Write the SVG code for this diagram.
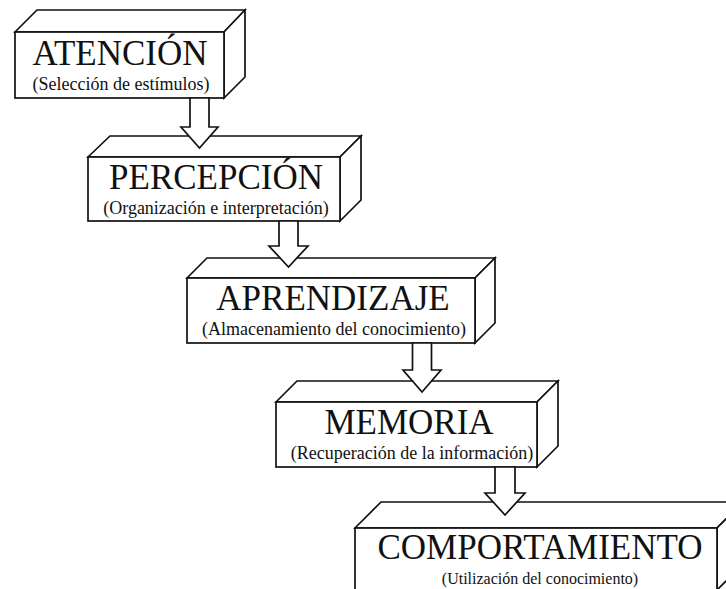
<svg xmlns="http://www.w3.org/2000/svg" width="726" height="589" viewBox="0 0 726 589">
<style>
.box{fill:#fff;stroke:#111;stroke-width:1.7;stroke-linejoin:miter}
.arrow{fill:#fff;stroke:#111;stroke-width:1.7;stroke-linejoin:miter}
.t{font-family:"Liberation Serif","Times New Roman",serif;fill:#111;text-anchor:middle}
.title{font-size:35px}
.sub{font-size:18px}
</style>
<rect width="726" height="589" fill="#fff"/>
<g id="atencion">
<path class="box" d="M15,32 L37,10 L245,10 L224,32 Z"/>
<path class="box" d="M224,32 L245,10 L245,77 L224,98 Z"/>
<rect class="box" x="15" y="32" width="209" height="66"/>
<text class="t title" x="120" y="65">ATENCIÓN</text>
<text class="t sub" x="121" y="90">(Selección de estímulos)</text>
</g>
<g id="percepcion">
<path class="box" d="M88,157 L110,136 L361,136 L340,157 Z"/>
<path class="box" d="M340,157 L361,136 L361,200 L340,221 Z"/>
<rect class="box" x="88" y="157" width="252" height="64"/>
<text class="t title" x="216" y="189">PERCEPCIÓN</text>
<text class="t sub" x="216" y="214">(Organización e interpretación)</text>
</g>
<g id="aprendizaje">
<path class="box" d="M187,278 L207,258 L495,258 L475,278 Z"/>
<path class="box" d="M475,278 L495,258 L495,323 L475,343 Z"/>
<rect class="box" x="187" y="278" width="288" height="65"/>
<text class="t title" x="333" y="310">APRENDIZAJE</text>
<text class="t sub" x="334" y="335">(Almacenamiento del conocimiento)</text>
</g>
<g id="memoria">
<path class="box" d="M276,402 L297,381 L558,381 L537,402 Z"/>
<path class="box" d="M537,402 L558,381 L558,446 L537,467 Z"/>
<rect class="box" x="276" y="402" width="261" height="65"/>
<text class="t title" x="409" y="434">MEMORIA</text>
<text class="t sub" x="412" y="459">(Recuperación de la información)</text>
</g>
<g id="comportamiento">
<path class="box" d="M355,528 L381,502 L743,502 L717,528 Z"/>
<path class="box" d="M717,528 L743,502 L743,564 L717,590 Z"/>
<rect class="box" x="355" y="528" width="362" height="62"/>
<text class="t title" x="540" y="559">COMPORTAMIENTO</text>
<text class="t" style="font-size:16px" x="540" y="584">(Utilización del conocimiento)</text>
</g>
<g id="connectors">
<path class="arrow" d="M190,98 L209,98 L209,127 L218,127 L199.5,148 L181,127 L190,127 Z"/>
<path class="arrow" d="M279,221 L298,221 L298,246 L308,246 L288.5,267 L269,246 L279,246 Z"/>
<path class="arrow" d="M412.5,343 L431.5,343 L431.5,370 L441,370 L422,392 L403,370 L412.5,370 Z"/>
<path class="arrow" d="M495,467 L515,467 L515,493 L525,493 L505,515 L485,493 L495,493 Z"/>
</g>
</svg>
